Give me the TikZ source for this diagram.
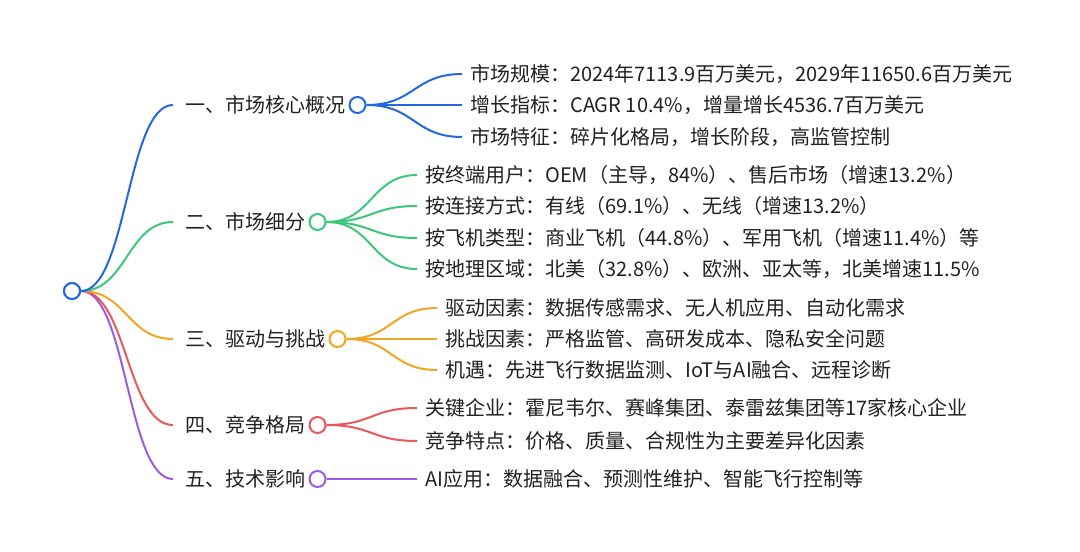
\documentclass[tikz,border=0pt]{standalone}
\usepackage{fontspec}
\setmainfont{Noto Sans CJK SC}
\usetikzlibrary{positioning,calc}
\definecolor{mmblue}{HTML}{2468E0}
\definecolor{mmgreen}{HTML}{3DC77A}
\definecolor{mmorange}{HTML}{F5A524}
\definecolor{mmred}{HTML}{E8585C}
\definecolor{mmpurple}{HTML}{9B5CE0}
\definecolor{mmtext}{HTML}{222222}

\begin{document}
\begin{tikzpicture}[x=0.75pt,y=-0.75pt,
      dot/.style={circle,draw,fill=white,line width=1.5pt,minimum size=12pt,inner sep=0pt},
      topic/.style={anchor=west,inner xsep=9pt,inner ysep=2pt,text=mmtext,font=\fontsize{15}{18}\selectfont},
      leaf/.style={anchor=west,inner xsep=6pt,inner ysep=2pt,text=mmtext,font=\fontsize{15}{18}\selectfont},
      link/.style={line width=1.5pt}]
    \fill[white] (0,0) rectangle (1080,552);
    \useasboundingbox (0,0) rectangle (1080,552);

    % first level
    \node[topic] (m1) at (173,105) {一、市场核心概况};
    \node[topic] (m2) at (173,222) {二、市场细分};
    \node[topic] (m3) at (173,339) {三、驱动与挑战};
    \node[topic] (m4) at (173,425) {四、竞争格局};
    \node[topic] (m5) at (173,479) {五、技术影响};

    % second level
    \node[leaf] (s11) at (462,74) {市场规模：2024年7113.9百万美元，2029年11650.6百万美元};
    \node[leaf] (s12) at (462,105) {增长指标：CAGR 10.4\%，增量增长4536.7百万美元};
    \node[leaf] (s13) at (462,137) {市场特征：碎片化格局，增长阶段，高监管控制};

    \node[leaf] (s21) at (417,175) {按终端用户：OEM（主导，84\%）、售后市场（增速13.2\%）};
    \node[leaf] (s22) at (417,206) {按连接方式：有线（69.1\%）、无线（增速13.2\%）};
    \node[leaf] (s23) at (417,238) {按飞机类型：商业飞机（44.8\%）、军用飞机（增速11.4\%）等};
    \node[leaf] (s24) at (417,269) {按地理区域：北美（32.8\%）、欧洲、亚太等，北美增速11.5\%};

    \node[leaf] (s31) at (437,308) {驱动因素：数据传感需求、无人机应用、自动化需求};
    \node[leaf] (s32) at (437,339) {挑战因素：严格监管、高研发成本、隐私安全问题};
    \node[leaf] (s33) at (437,370) {机遇：先进飞行数据监测、IoT与AI融合、远程诊断};

    \node[leaf] (s41) at (417,408) {关键企业：霍尼韦尔、赛峰集团、泰雷兹集团等17家核心企业};
    \node[leaf] (s42) at (417,441) {竞争特点：价格、质量、合规性为主要差异化因素};

    \node[leaf] (s51) at (417,479) {AI应用：数据融合、预测性维护、智能飞行控制等};

    % root to topics
    \node[dot,draw=mmblue] (root) at (72,291) {};
    \draw[link,mmpurple] (root.east) .. controls +(46,0) and +(-46,0) .. (m5.west);
    \draw[link,mmred] (root.east) .. controls +(46,0) and +(-46,0) .. (m4.west);
    \draw[link,mmorange] (root.east) .. controls +(46,0) and +(-46,0) .. (m3.west);
    \draw[link,mmgreen] (root.east) .. controls +(46,0) and +(-46,0) .. (m2.west);
    \draw[link,mmblue] (root.east) .. controls +(46,0) and +(-46,0) .. (m1.west);
    \node[dot,draw=mmblue] at (root) {};

    % topic dots
    \node[dot,draw=mmblue] (c1) at (m1.east) {};
    \node[dot,draw=mmgreen] (c2) at (m2.east) {};
    \node[dot,draw=mmorange] (c3) at (m3.east) {};
    \node[dot,draw=mmred] (c4) at (m4.east) {};
    \node[dot,draw=mmpurple] (c5) at (m5.east) {};

    % topics to leaves
    \draw[link,mmblue] (c1.east) .. controls +(48,0) and +(-48,0) .. (s11.west);
    \draw[link,mmblue] (c1.east) -- (s12.west);
    \draw[link,mmblue] (c1.east) .. controls +(48,0) and +(-48,0) .. (s13.west);

    \draw[link,mmgreen] (c2.east) .. controls +(46,0) and +(-46,0) .. (s21.west);
    \draw[link,mmgreen] (c2.east) .. controls +(46,0) and +(-46,0) .. (s22.west);
    \draw[link,mmgreen] (c2.east) .. controls +(46,0) and +(-46,0) .. (s23.west);
    \draw[link,mmgreen] (c2.east) .. controls +(46,0) and +(-46,0) .. (s24.west);

    \draw[link,mmorange] (c3.east) .. controls +(46,0) and +(-46,0) .. (s31.west);
    \draw[link,mmorange] (c3.east) -- (s32.west);
    \draw[link,mmorange] (c3.east) .. controls +(46,0) and +(-46,0) .. (s33.west);

    \draw[link,mmred] (c4.east) .. controls +(46,0) and +(-46,0) .. (s41.west);
    \draw[link,mmred] (c4.east) .. controls +(46,0) and +(-46,0) .. (s42.west);

    \draw[link,mmpurple] (c5.east) -- (s51.west);
  \end{tikzpicture}
\end{document}
